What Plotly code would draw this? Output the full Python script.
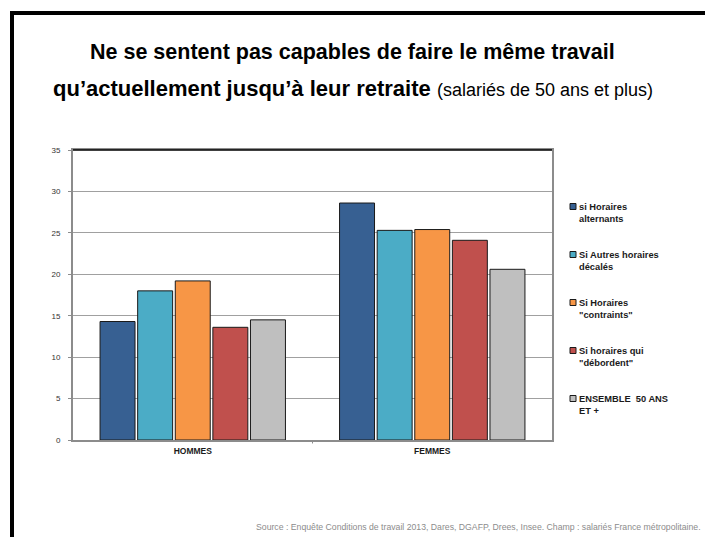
import plotly.graph_objects as go

categories = ["HOMMES", "FEMMES"]
series_names = [
    "si Horaires<br>alternants",
    "Si Autres horaires<br>décalés",
    "Si Horaires<br>\"contraints\"",
    "Si horaires qui<br>\"débordent\"",
    "ENSEMBLE  50 ANS<br>ET +",
]
series_values = [
    [14.3, 28.6],
    [18.0, 25.3],
    [19.2, 25.4],
    [13.6, 24.1],
    [14.5, 20.6],
]
series_colors = ["#376092", "#4BACC6", "#F79646", "#C0504D", "#BFBFBF"]
y_ticks = [0, 5, 10, 15, 20, 25, 30, 35]

NARROW = "Liberation Sans Narrow, Arial Narrow, Liberation Sans, Arial, sans-serif"
SANS = "Liberation Sans, Arial, sans-serif"

# plot area in pixels: x 73..552, y 150..440
PX_L, PX_W, PX_B, PX_H = 73, 479, 440, 290


def px_x(p):
    return (p - PX_L) / PX_W


def px_y(q):
    return (PX_B - q) / PX_H


fig = go.Figure()

for name, vals, col in zip(series_names, series_values, series_colors):
    fig.add_trace(go.Bar(
        name=name,
        x=categories,
        y=vals,
        marker=dict(color=col, line=dict(color="#1a1a1a", width=1)),
        showlegend=False,
    ))

fig.update_layout(
    barmode="group",
    bargap=0.215,
    bargroupgap=0.07,
    width=705,
    height=537,
    margin=dict(l=73, r=153, t=150, b=97),
    paper_bgcolor="white",
    plot_bgcolor="white",
    font=dict(family=SANS),
)

fig.update_yaxes(
    range=[0, 35],
    tickvals=y_ticks,
    showgrid=True,
    gridcolor="#a0a0a0",
    gridwidth=1,
    showline=True,
    linecolor="#8c8c8c",
    linewidth=2,
    mirror=True,
    ticks="outside",
    ticklen=3,
    tickcolor="#8c8c8c",
    ticklabelstandoff=6,
    tickfont=dict(family=SANS, size=8, color="#333333"),
    zeroline=False,
)

fig.update_xaxes(
    showline=True,
    linecolor="#8c8c8c",
    linewidth=2,
    mirror=True,
    ticks="",
    tickfont=dict(family=SANS, size=8.5, color="#1a1a1a"),
    tickprefix="<b>",
    ticksuffix="</b>",
    ticklabelstandoff=2,
)

# category boundary tick below the axis
fig.add_shape(type="line", xref="paper", yref="paper",
              x0=0.5, x1=0.5, y0=0, y1=-0.012,
              line=dict(color="#8c8c8c", width=1))

# black top border of the plot area
fig.add_shape(type="line", xref="paper", yref="paper",
              x0=0, x1=1, y0=1, y1=1,
              line=dict(color="black", width=1.5))

# slide frame (top and left thick black lines)
fig.add_shape(type="line", xref="paper", yref="paper",
              x0=px_x(10), x1=px_x(720), y0=px_y(13), y1=px_y(13),
              line=dict(color="black", width=4))
fig.add_shape(type="line", xref="paper", yref="paper",
              x0=px_x(12), x1=px_x(12), y0=px_y(11), y1=px_y(545),
              line=dict(color="black", width=4))

# legend drawn by hand: small square + bold two-line label
for i, (name, col) in enumerate(zip(series_names, series_colors)):
    cy = 206.5 + 48 * i
    fig.add_shape(type="rect", xref="paper", yref="paper",
                  x0=px_x(570), x1=px_x(576), y0=px_y(cy + 3), y1=px_y(cy - 3),
                  fillcolor=col, line=dict(color="#1a1a1a", width=1))
    fig.add_annotation(
        text=f"<b>{name}</b>",
        xref="paper", yref="paper", x=px_x(577), y=px_y(cy - 7),
        xanchor="left", yanchor="top", align="left", showarrow=False,
        font=dict(family=SANS, size=9.3, color="#1a1a1a"),
    )

# title lines
fig.add_annotation(
    text="<b>Ne se sentent pas capables de faire le même travail</b>",
    xref="paper", yref="paper", x=px_x(352), y=px_y(52),
    xanchor="center", yanchor="middle", showarrow=False,
    font=dict(family=NARROW, size=21.5, color="black"),
)
fig.add_annotation(
    text="<b>qu’actuellement jusqu’à leur retraite</b> "
         "<span style='font-size:18px'>(salariés de 50 ans et plus)</span>",
    xref="paper", yref="paper", x=px_x(353), y=px_y(88),
    xanchor="center", yanchor="middle", showarrow=False,
    font=dict(family=NARROW, size=22, color="black"),
)

# source note
fig.add_annotation(
    text="Source : Enquête Conditions de travail 2013, Dares, DGAFP, Drees, Insee. "
         "Champ : salariés France métropolitaine.",
    xref="paper", yref="paper", x=px_x(703), y=px_y(527),
    xanchor="right", yanchor="middle", showarrow=False,
    font=dict(family=NARROW, size=8.7, color="#8c8c8c"),
)

fig.write_html(
    "out.html",
    config={"displayModeBar": False},
    post_script="document.body.style.margin='0';document.body.style.overflow='hidden';",
)
